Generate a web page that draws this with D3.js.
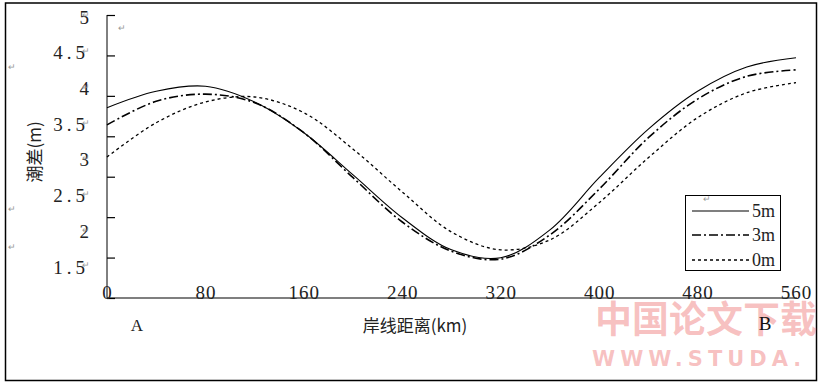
<!DOCTYPE html>
<html>
<head>
<meta charset="utf-8">
<script src="https://cdn.jsdelivr.net/npm/d3@7"></script>
<style>
  body { margin: 0; background: #fff; }
  svg { display: block; }
</style>
</head>
<body>
<div id="graph"></div>
<script>
const distance = [0, 40, 80, 120, 160, 200, 240, 280, 320, 360, 400, 440, 480, 520, 560];
const tide5m = [3.73, 3.96, 4.03, 3.81, 3.38, 2.79, 2.19, 1.74, 1.63, 2.02, 2.75, 3.43, 3.96, 4.30, 4.43];
const tide3m = [3.49, 3.82, 3.92, 3.80, 3.38, 2.75, 2.13, 1.72, 1.61, 1.95, 2.59, 3.31, 3.85, 4.17, 4.26];
const tide0m = [3.04, 3.52, 3.81, 3.88, 3.66, 3.15, 2.55, 1.99, 1.74, 1.88, 2.40, 3.03, 3.59, 3.94, 4.08];
const seriesNames = ["5m", "3m", "0m"];
const xTicks = [0, 80, 160, 240, 320, 400, 480, 560];
const yTicks = [5, 4.5, 4, 3.5, 3, 2.5, 2, 1.5];

const width = 818;
const height = 384;

const serif = "'Liberation Serif', 'DejaVu Serif', serif";
const cjk = "'Noto Sans CJK SC', sans-serif";

const xScale = d3.scaleLinear()
                 .domain([0, 560])
                 .range([107, 796])

const yScale = d3.scaleLinear()
                 .domain([1.5, 5])
                 .range([267, 17])

// tick marks on the axis line are evenly spaced, separate from the labels
const markScale = d3.scaleLinear()
                    .domain([0, 7])
                    .range([298, 15])

const svg = d3.create("svg")
              .attr("width", width)
              .attr("height", height)
              .attr("viewBox", `0 0 ${width} ${height}`)

// outer frame
svg.append("rect")
   .attr("x", 5.5)
   .attr("y", 3)
   .attr("width", 811)
   .attr("height", 377.5)
   .attr("fill", "none")
   .attr("stroke", "#000")
   .attr("stroke-width", 1.5)

// watermark
svg.append("text")
   .attr("x", 595)
   .attr("y", 333)
   .attr("font-family", cjk)
   .attr("font-weight", "bold")
   .attr("font-size", 37)
   .attr("fill", "rgba(236,90,90,0.38)")
   .text("中国论文下载")

svg.append("text")
   .attr("x", 592)
   .attr("y", 366)
   .attr("font-family", "'DejaVu Sans', sans-serif")
   .attr("font-weight", "bold")
   .attr("font-size", 21)
   .attr("letter-spacing", 5)
   .attr("fill", "rgba(236,90,90,0.38)")
   .text("WWW.STUDA.")

// y axis line with inner tick marks
svg.append("g")
   .attr("transform", "translate(107, 0)")
   .call(d3.axisRight(markScale).ticks(7).tickSize(8).tickFormat(""))
   .call(g => g.select(".domain").attr("d", "M0,15V298"))
   .call(g => g.selectAll("line").attr("stroke-width", 1.2))

// y labels
const yAxis = svg.append("g")
   .attr("transform", "translate(89, 0)")
   .call(d3.axisLeft(yScale).tickValues(yTicks).tickSize(0).tickPadding(0)
           .tickFormat(d => d % 1 ? d.toFixed(1) : d))
yAxis.select(".domain").remove()
yAxis.selectAll("text")
     .attr("font-family", serif)
     .attr("font-size", 19)
     .attr("letter-spacing", d => d % 1 ? 4 : 0)
     .attr("fill", "#222")
yAxis.selectAll(".tick")
     .append("text")
     .attr("x", 1)
     .attr("y", 0)
     .attr("dy", "0.1em")
     .attr("font-size", 9)
     .attr("fill", "#999")
     .text("↵")

// x axis
const xAxis = svg.append("g")
   .attr("transform", "translate(0, 298)")
   .call(d3.axisBottom(xScale).tickValues(xTicks).tickSize(0).tickPadding(0))
xAxis.select(".domain").attr("d", "M107,0H797").attr("stroke", "#000").attr("stroke-width", 1.2)
xAxis.selectAll("text")
     .attr("y", 1)
     .attr("dy", 0)
     .attr("font-family", serif)
     .attr("font-size", 19)
     .attr("letter-spacing", 1)
     .attr("fill", "#222")

// axis titles
svg.append("text")
   .attr("transform", "translate(41, 152) rotate(-90)")
   .attr("text-anchor", "middle")
   .attr("font-family", cjk)
   .attr("font-size", 17)
   .attr("fill", "#222")
   .text("潮差(m)")

svg.append("text")
   .attr("x", 415)
   .attr("y", 332)
   .attr("text-anchor", "middle")
   .attr("font-family", cjk)
   .attr("font-size", 17)
   .attr("fill", "#222")
   .text("岸线距离(km)")

svg.append("text")
   .attr("x", 137)
   .attr("y", 331)
   .attr("text-anchor", "middle")
   .attr("font-family", serif)
   .attr("font-size", 17)
   .attr("fill", "#222")
   .text("A")

svg.append("text")
   .attr("x", 765)
   .attr("y", 330)
   .attr("text-anchor", "middle")
   .attr("font-family", serif)
   .attr("font-size", 19)
   .attr("fill", "#111")
   .text("B")

// stray paragraph marks
svg.selectAll(".mark")
   .data([[8, 70], [8, 212], [8, 250], [118, 31], [703, 201]])
   .enter()
   .append("text")
   .classed("mark", true)
   .attr("x", d => d[0])
   .attr("y", d => d[1])
   .attr("font-size", 9)
   .attr("fill", "#999")
   .text("↵")

// lines
const styles = [
  { dash: null, width: 1.1 },
  { dash: "9,3,2,3", width: 1.6 },
  { dash: "3,3", width: 1.3 }
]
const series = [tide5m, tide3m, tide0m]

const line = d3.line()
               .x((d, i) => xScale(distance[i]))
               .y(d => yScale(d))
               .curve(d3.curveCatmullRom)

svg.selectAll(".tide")
   .data(series)
   .enter()
   .append("path")
   .classed("tide", true)
   .attr("d", d => line(d))
   .attr("fill", "none")
   .attr("stroke", "#000")
   .attr("stroke-width", (d, i) => styles[i].width)
   .attr("stroke-dasharray", (d, i) => styles[i].dash)

// legend
const legend = svg.append("g")
                  .attr("id", "legend")

legend.append("rect")
      .attr("x", 685.5)
      .attr("y", 195.5)
      .attr("width", 95)
      .attr("height", 75)
      .attr("fill", "#fff")
      .attr("stroke", "#000")

const legendY = [211, 235, 260]

legend.selectAll(".legend-item")
      .data(seriesNames)
      .enter()
      .append("g")
      .classed("legend-item", true)
      .each(function (name, i) {
         const g = d3.select(this)
         g.append("line")
          .attr("x1", 692)
          .attr("x2", 749)
          .attr("y1", legendY[i])
          .attr("y2", legendY[i])
          .attr("stroke", "#000")
          .attr("stroke-width", styles[i].width)
          .attr("stroke-dasharray", styles[i].dash)
         g.append("text")
          .attr("x", 752)
          .attr("y", legendY[i] + 6)
          .attr("font-family", serif)
          .attr("font-size", 18)
          .attr("fill", "#222")
          .text(name)
      })

legend.append("text")
      .attr("x", 703)
      .attr("y", 202)
      .attr("font-size", 9)
      .attr("fill", "#999")
      .text("↵")

graph.append(svg.node());
</script>
</body>
</html>
